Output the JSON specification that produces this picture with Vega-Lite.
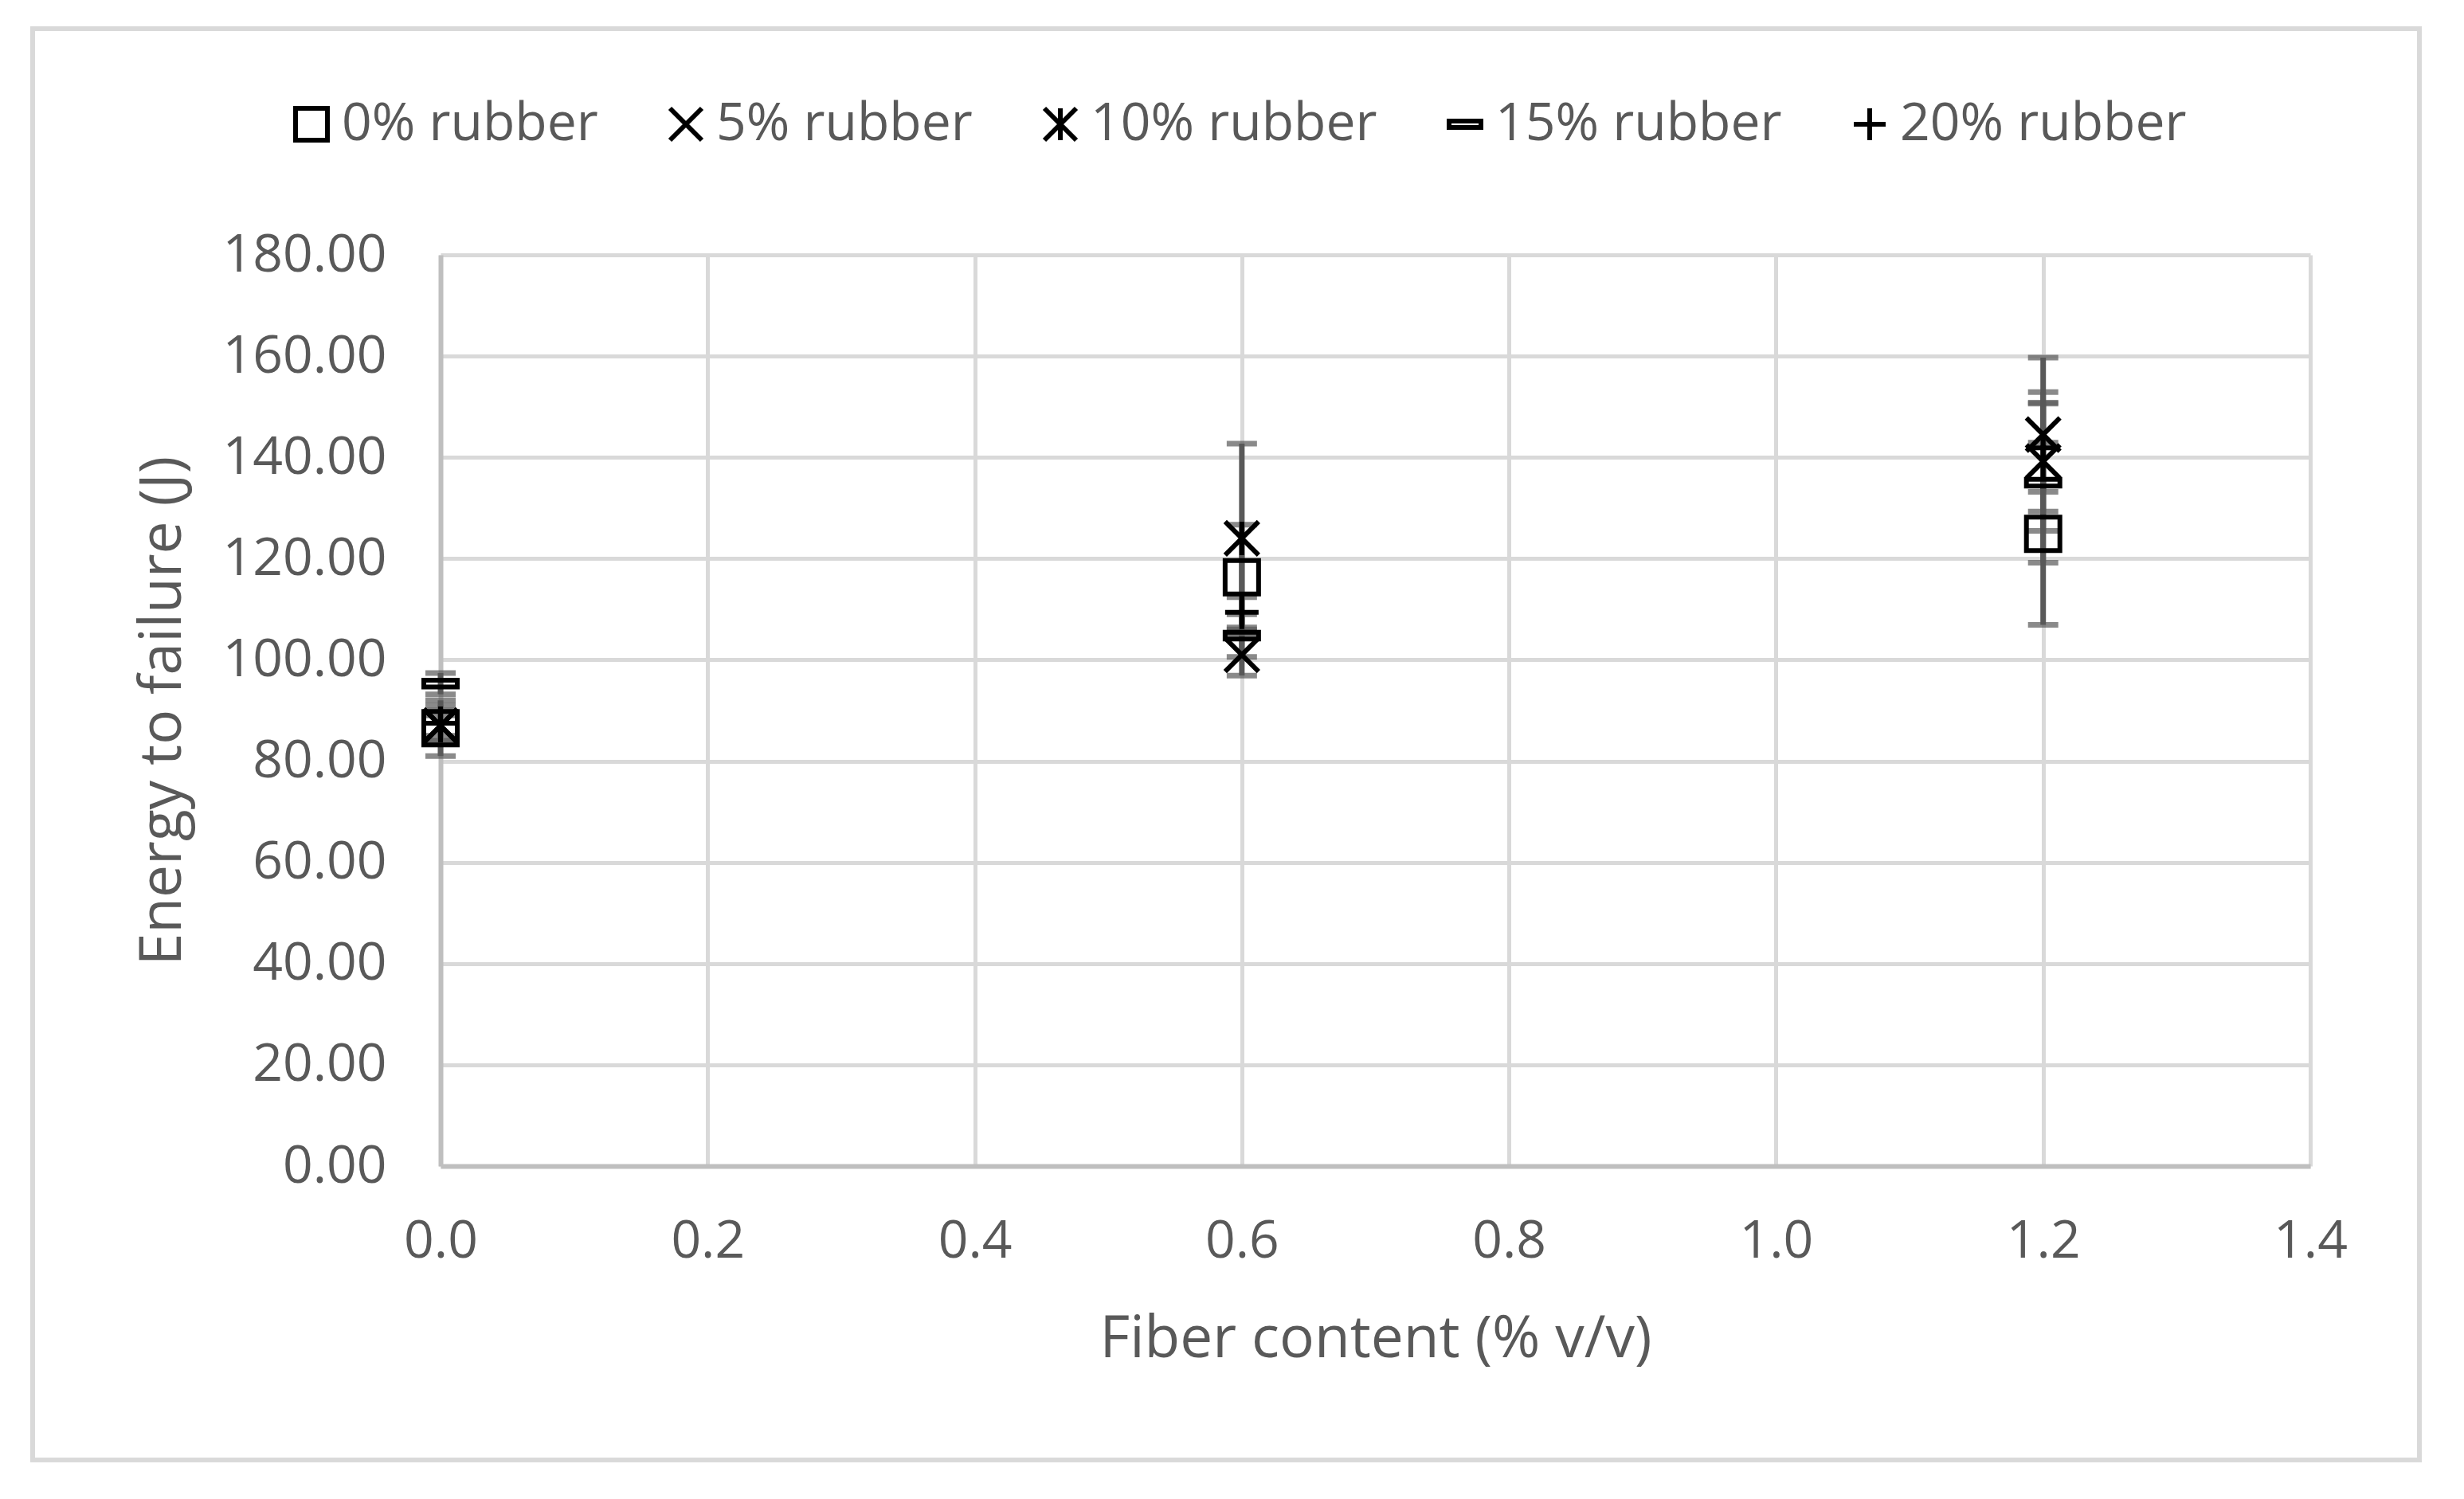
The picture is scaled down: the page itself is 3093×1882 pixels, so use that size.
{
  "$schema": "https://vega.github.io/schema/vega-lite/v6.json",
  "width": 2347,
  "height": 1144,
  "autosize": {"type": "none"},
  "padding": {"left": 553, "top": 320, "right": 193, "bottom": 418},
  "background": "white",
  "data": {
    "values": [
      {"fiber": 0.0, "rubber": "0% rubber", "energy": 86.5, "low": 81.0, "high": 92.0},
      {"fiber": 0.0, "rubber": "5% rubber", "energy": 87.0, "low": 84.0, "high": 90.0},
      {"fiber": 0.0, "rubber": "10% rubber", "energy": 87.0, "low": 85.0, "high": 89.0},
      {"fiber": 0.0, "rubber": "15% rubber", "energy": 95.3, "low": 93.2, "high": 97.4},
      {"fiber": 0.0, "rubber": "20% rubber", "energy": 87.5, "low": 84.0, "high": 91.0},
      {"fiber": 0.6, "rubber": "0% rubber", "energy": 116.3, "low": 106.0, "high": 126.7},
      {"fiber": 0.6, "rubber": "5% rubber", "energy": 101.0, "low": 96.9, "high": 105.1},
      {"fiber": 0.6, "rubber": "10% rubber", "energy": 124.0, "low": 105.3, "high": 142.7},
      {"fiber": 0.6, "rubber": "15% rubber", "energy": 104.8, "low": 100.6, "high": 109.0},
      {"fiber": 0.6, "rubber": "20% rubber", "energy": 109.4, "low": 106.4, "high": 112.4},
      {"fiber": 1.2, "rubber": "0% rubber", "energy": 124.9, "low": 106.9, "high": 142.9},
      {"fiber": 1.2, "rubber": "5% rubber", "energy": 144.5, "low": 129.3, "high": 159.7},
      {"fiber": 1.2, "rubber": "10% rubber", "energy": 139.2, "low": 125.5, "high": 152.9},
      {"fiber": 1.2, "rubber": "15% rubber", "energy": 135.0, "low": 119.2, "high": 150.8},
      {"fiber": 1.2, "rubber": "20% rubber", "energy": 141.9, "low": 133.2, "high": 150.6}
    ]
  },
  "encoding": {
    "x": {
      "field": "fiber",
      "type": "quantitative",
      "title": "Fiber content (% v/v)",
      "scale": {"domain": [0, 1.4], "nice": false, "zero": false},
      "axis": {
        "values": [0, 0.2, 0.4, 0.6, 0.8, 1.0, 1.2, 1.4],
        "format": ".1f",
        "labelFlush": false,
        "labelPadding": 62,
        "titlePadding": 54
      }
    },
    "y": {
      "field": "energy",
      "type": "quantitative",
      "title": "Energy to failure (J)",
      "scale": {"domain": [0, 180], "nice": false},
      "axis": {
        "values": [0, 20, 40, 60, 80, 100, 120, 140, 160, 180],
        "format": ".2f",
        "labelFlush": false,
        "titleX": -349,
        "titleY": 572,
        "titleAngle": -90,
        "titleAlign": "center",
        "titleBaseline": "middle"
      }
    }
  },
  "layer": [
    {
      "mark": {"type": "rect", "fill": null, "stroke": "#d9d9d9", "strokeWidth": 5, "clip": false},
      "encoding": {
        "x": {"datum": -0.3054, "type": "quantitative"},
        "x2": {"datum": 1.4818},
        "y": {"datum": 224.7, "type": "quantitative"},
        "y2": {"datum": -58.06}
      }
    },
    {
      "mark": {"type": "rule", "color": "#595959", "strokeWidth": 7},
      "encoding": {
        "y": {"field": "low", "type": "quantitative"},
        "y2": {"field": "high"}
      }
    },
    {
      "mark": {"type": "tick", "orient": "horizontal", "color": "#595959", "size": 38, "thickness": 7},
      "encoding": {"y": {"field": "low", "type": "quantitative"}}
    },
    {
      "mark": {"type": "tick", "orient": "horizontal", "color": "#595959", "size": 38, "thickness": 7},
      "encoding": {"y": {"field": "high", "type": "quantitative"}}
    },
    {
      "mark": {"type": "point", "filled": false, "color": "black", "strokeWidth": 6, "size": 1764, "opacity": 1},
      "encoding": {
        "shape": {
          "field": "rubber",
          "type": "nominal",
          "scale": {
            "domain": ["0% rubber", "5% rubber", "10% rubber", "15% rubber", "20% rubber"],
            "range": [
              "square",
              "M-1,-1L1,1M-1,1L1,-1",
              "M-1,-1L1,1M-1,1L1,-1M0,-1L0,1",
              "M-1,-0.2L1,-0.2L1,0.2L-1,0.2Z",
              "M-1,0L1,0M0,-1L0,1"
            ]
          },
          "legend": {
            "title": null,
            "orient": "none",
            "legendX": -195,
            "legendY": -197,
            "direction": "horizontal",
            "padding": 0,
            "labelFont": "Open Sans",
            "labelFontSize": 66,
            "labelColor": "#595959",
            "labelLimit": 0,
            "labelOffset": 5,
            "columnPadding": 77,
            "symbolSize": 1600,
            "symbolStrokeWidth": 6,
            "symbolStrokeColor": "black",
            "symbolFillColor": "transparent",
            "symbolOpacity": 1
          }
        }
      }
    }
  ],
  "config": {
    "font": "Open Sans",
    "view": {"stroke": null},
    "axis": {
      "labelFont": "Open Sans",
      "labelFontSize": 66,
      "labelColor": "#595959",
      "labelPadding": 68,
      "labelLimit": 0,
      "titleFont": "Open Sans",
      "titleFontSize": 73,
      "titleFontWeight": "normal",
      "titleColor": "#595959",
      "ticks": false,
      "tickSize": 0,
      "grid": true,
      "gridColor": "#d9d9d9",
      "gridWidth": 5,
      "domainColor": "#bfbfbf",
      "domainWidth": 6
    }
  }
}
